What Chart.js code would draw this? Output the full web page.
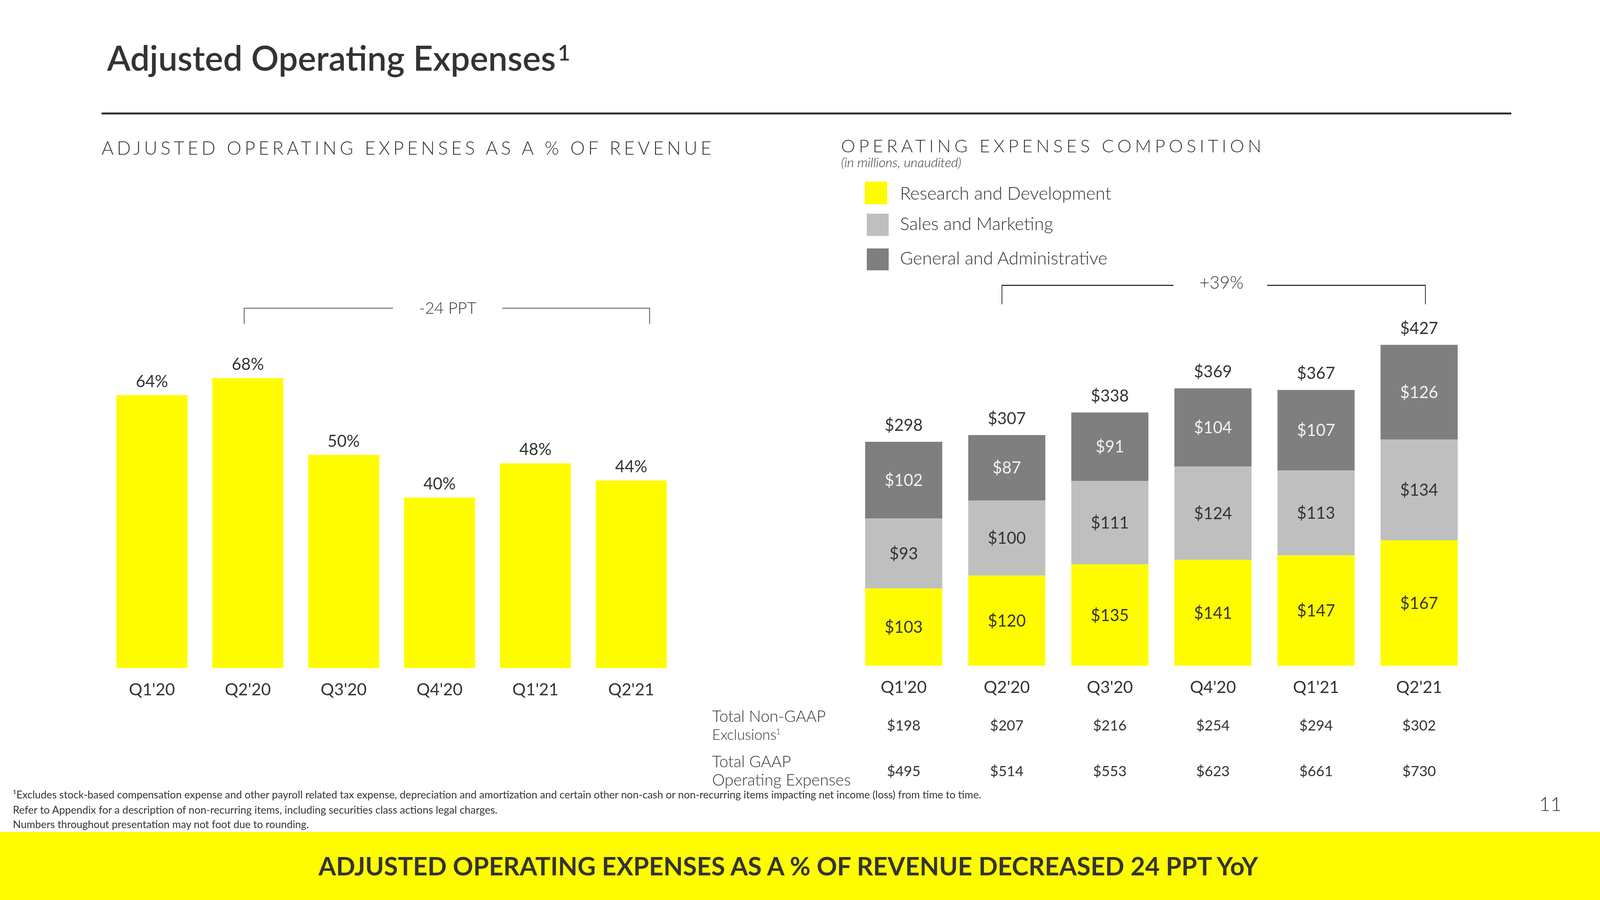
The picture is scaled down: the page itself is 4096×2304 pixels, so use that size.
<!DOCTYPE html>
<html><head><meta charset="utf-8">
<script src="https://cdn.jsdelivr.net/npm/chart.js@4.4.1/dist/chart.umd.min.js"></script>
<style>
html,body{margin:0;padding:0;background:#fff;}
body{width:4096px;height:2304px;position:relative;overflow:hidden;font-family:Lato,"Open Sans",sans-serif;color:#333;}
canvas{position:absolute;left:0;top:0;}
.t{position:absolute;white-space:nowrap;line-height:1;}
.box{position:absolute;}
</style></head><body>
<div class="box" style="left:0;top:2130px;width:4096px;height:174px;background:#FFFC00"></div>
<div class="box" style="left:260px;top:288px;width:3609px;height:4.5px;background:#333"></div>
<!-- left bracket -->
<div class="box" style="left:624px;top:788px;width:382px;height:2px;background:#555"></div>
<div class="box" style="left:1286px;top:788px;width:378px;height:2px;background:#555"></div>
<div class="box" style="left:624px;top:788px;width:2px;height:41px;background:#555"></div>
<div class="box" style="left:1662px;top:788px;width:2px;height:41px;background:#555"></div>
<!-- right bracket -->
<div class="box" style="left:2564px;top:729px;width:440px;height:2.5px;background:#333"></div>
<div class="box" style="left:3244px;top:729px;width:406px;height:2.5px;background:#333"></div>
<div class="box" style="left:2564px;top:729px;width:2px;height:50px;background:#333"></div>
<div class="box" style="left:3648px;top:729px;width:2px;height:50px;background:#333"></div>
<canvas id="left" width="4096" height="2304"></canvas>
<canvas id="right" width="4096" height="2304"></canvas>
<script>
// ---------- data ----------
const categories = ["Q1'20", "Q2'20", "Q3'20", "Q4'20", "Q1'21", "Q2'21"];
const opexPctOfRevenue = [64, 68, 50, 40, 48, 44];
const seriesNames = ["Research and Development", "Sales and Marketing", "General and Administrative"];
const researchDev = [103, 120, 135, 141, 147, 167];
const salesMarketing = [93, 100, 111, 124, 113, 134];
const generalAdmin = [102, 87, 91, 104, 107, 126];
const totalOpex = [298, 307, 338, 369, 367, 427];
const nonGaapExclusions = [198, 207, 216, 254, 294, 302];
const gaapOpex = [495, 514, 553, 623, 661, 730];

const YELLOW = '#FFFC00', LIGHT = '#BFBFBF', DARK = '#7F7F7F', TEXT = '#333333';
const seriesColors = [YELLOW, LIGHT, DARK];

// ---------- text helper ----------
function place(spec){
  const d = document.createElement('div');
  d.className = 't';
  d.style.fontSize = spec.size + 'px';
  d.style.fontWeight = spec.weight || 400;
  d.style.fontStyle = spec.style || 'normal';
  d.style.color = spec.color || TEXT;
  const tn = document.createTextNode(spec.text);
  d.appendChild(tn);
  const m = document.createElement('span');
  m.style.cssText = 'display:inline-block;width:0;height:0;';
  d.appendChild(m);
  d.style.left = '0px'; d.style.top = '0px';
  document.body.appendChild(d);
  const r = document.createRange();
  const tw = () => { r.selectNodeContents(tn); return r.getBoundingClientRect().width; };
  if (spec.w){
    const w0 = tw();
    if (spec.spacing){
      const n = spec.text.length;
      d.style.letterSpacing = ((spec.w - w0) / (n - 1)) + 'px';
    } else {
      d.style.fontSize = (spec.size * spec.w / w0) + 'px';
    }
  }
  const w = tw();
  const base = m.getBoundingClientRect().top - d.getBoundingClientRect().top;
  const left = spec.align === 'center' ? spec.x - w / 2 : spec.x;
  d.style.left = left + 'px';
  d.style.top = (spec.y - base) + 'px';
}

const texts = [
  {text:'Adjusted Operating Expenses', x:274, y:181, size:85, weight:600, w:1149},
  {text:'1', x:1428, y:155, size:55, weight:600},
  {text:'ADJUSTED OPERATING EXPENSES AS A % OF REVENUE', x:260, y:395.5, size:47, weight:300, w:1561, spacing:true},
  {text:'OPERATING EXPENSES COMPOSITION', x:2153, y:390, size:46, weight:300, w:1076, spacing:true},
  {text:'(in millions, unaudited)', x:2153, y:428, size:28, weight:300, style:'italic', w:308},
  {text:'-24 PPT', x:1146, y:803, size:43, weight:300, w:147, align:'center'},
  {text:'+39%', x:3127, y:738.6, size:43, weight:300, w:113, align:'center'},
  {text:'Total Non-GAAP', x:1823, y:1848, size:37, weight:300, w:291},
  {text:'Exclusions', x:1823, y:1894, size:37, weight:300},
  {text:'1', x:1986, y:1880, size:22, weight:300},
  {text:'Total GAAP', x:1823, y:1963.5, size:37, weight:300, w:202},
  {text:'Operating Expenses', x:1823, y:2011, size:37, weight:300, w:355},
  {text:'\u00B9Excludes stock-based compensation expense and other payroll related tax expense, depreciation and amortization and certain other non-cash or non-recurring items impacting net income (loss) from time to time.', x:33, y:2044, size:24, weight:400, w:2481},
  {text:'Refer to Appendix for a description of non-recurring items, including securities class actions legal charges.', x:33, y:2082.6, size:24, weight:400, w:1241},
  {text:'Numbers throughout presentation may not foot due to rounding.', x:33, y:2119.7, size:24, weight:400, w:758},
  {text:'11', x:3940, y:2076, size:50, weight:300},
  {text:'ADJUSTED OPERATING EXPENSES AS A % OF REVENUE DECREASED 24 PPT YoY', x:2018, y:2241, size:59, weight:700, w:2406, align:'center'}
];
// legend
const legendBoxes = [[2214,465,57,58],[2219,547,56,57],[2219,636,56,56]];
const legendBase = [511, 589, 677];
const legendW = [541, 392, 531];
seriesNames.forEach((n,i)=>{
  const b = document.createElement('div');
  b.className = 'box';
  const [x,y,w,h] = legendBoxes[i];
  b.style.cssText = `left:${x}px;top:${y}px;width:${w}px;height:${h}px;background:${seriesColors[i]}`;
  document.body.appendChild(b);
  texts.push({text:n, x:2304, y:legendBase[i], size:38, weight:300, w:legendW[i]});
});
texts.forEach(place);

// ---------- charts ----------
const LABEL_FONT = '400 42px Lato, "Open Sans", sans-serif';
const AXIS_FONT = '400 43px Lato, "Open Sans", sans-serif';
const ROW_FONT = '400 37px Lato, "Open Sans", sans-serif';

const leftLabels = {
  id:'leftLabels',
  afterDatasetsDraw(chart){
    const ctx = chart.ctx, xs = chart.scales.x;
    const meta = chart.getDatasetMeta(0);
    ctx.save();
    ctx.fillStyle = TEXT; ctx.textAlign = 'center'; ctx.textBaseline = 'alphabetic';
    ctx.font = LABEL_FONT;
    meta.data.forEach((el,i)=>{
      ctx.fillText(opexPctOfRevenue[i] + '%', el.x, el.y - 21);
    });
    ctx.font = AXIS_FONT;
    categories.forEach((c,i)=> ctx.fillText(c, xs.getPixelForValue(i), 1780));
    ctx.restore();
  }
};

new Chart(document.getElementById('left'), {
  type:'bar',
  data:{labels:categories, datasets:[{label:'Adjusted operating expenses as a % of revenue', data:opexPctOfRevenue, backgroundColor:YELLOW, borderWidth:0, barPercentage:0.741, categoryPercentage:1}]},
  options:{
    responsive:false, devicePixelRatio:1, animation:false,
    layout:{padding:{left:266.3, right:2357.3, top:836.9, bottom:593.5}},
    plugins:{legend:{display:false}, tooltip:{enabled:false}},
    scales:{x:{display:false}, y:{display:false, min:0, max:80}}
  },
  plugins:[leftLabels]
});

const rightLabels = {
  id:'rightLabels',
  afterDatasetsDraw(chart){
    const ctx = chart.ctx, xs = chart.scales.x, ys = chart.scales.y;
    ctx.save();
    ctx.textAlign = 'center'; ctx.textBaseline = 'alphabetic';
    ctx.font = LABEL_FONT;
    chart.data.datasets.forEach((ds,di)=>{
      const meta = chart.getDatasetMeta(di);
      meta.data.forEach((el,i)=>{
        const mid = (el.y + el.base) / 2;
        ctx.fillStyle = di === 2 ? '#F2F2F2' : TEXT;
        ctx.fillText('$' + ds.data[i], el.x, mid + 15);
      });
    });
    ctx.fillStyle = TEXT;
    categories.forEach((c,i)=>{
      const sum = researchDev[i] + salesMarketing[i] + generalAdmin[i];
      const x = xs.getPixelForValue(i);
      ctx.font = LABEL_FONT;
      ctx.fillText('$' + totalOpex[i], x, ys.getPixelForValue(sum) - 28);
      ctx.font = AXIS_FONT;
      ctx.fillText(c, x, 1774);
      ctx.font = ROW_FONT;
      ctx.fillText('$' + nonGaapExclusions[i], x, 1870);
      ctx.fillText('$' + gaapOpex[i], x, 1987);
    });
    ctx.restore();
  }
};

new Chart(document.getElementById('right'), {
  type:'bar',
  data:{labels:categories, datasets:[
    {label:seriesNames[0], data:researchDev, backgroundColor:YELLOW},
    {label:seriesNames[1], data:salesMarketing, backgroundColor:LIGHT},
    {label:seriesNames[2], data:generalAdmin, backgroundColor:DARK}
  ].map(d=>Object.assign(d,{borderWidth:0, barPercentage:0.748, categoryPercentage:1}))},
  options:{
    responsive:false, devicePixelRatio:1, animation:false,
    layout:{padding:{left:2181.5, right:4096-3764.9, top:742.1, bottom:2304-1704.6}},
    plugins:{legend:{display:false}, tooltip:{enabled:false}},
    scales:{x:{display:false, stacked:true}, y:{display:false, stacked:true, min:0, max:500}}
  },
  plugins:[rightLabels]
});
</script>
</body></html>
